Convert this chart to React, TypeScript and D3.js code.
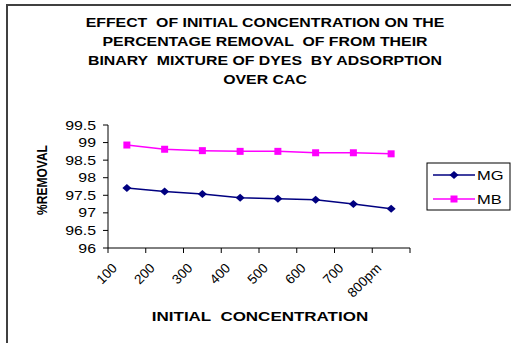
import React from "react";
import * as d3 from "d3";

// Initial concentration categories (x axis)
const categories = ["100", "200", "300", "400", "500", "600", "700", "800pm"];

// % removal for each dye in the binary mixture
const mgValues = [97.71, 97.61, 97.54, 97.43, 97.4, 97.37, 97.25, 97.12];
const mbValues = [98.93, 98.81, 98.77, 98.75, 98.75, 98.71, 98.71, 98.68];

const yTicks = [96, 96.5, 97, 97.5, 98, 98.5, 99, 99.5];

const titleLines = [
  "EFFECT  OF INITIAL CONCENTRATION ON THE",
  "PERCENTAGE REMOVAL  OF FROM THEIR",
  "BINARY  MIXTURE OF DYES  BY ADSORPTION",
  "OVER CAC",
];

const seriesNames = ["MG", "MB"];

const W = 511;
const H = 343;
const FONT = "'Liberation Sans', Arial, sans-serif";
const SX = 1.27; // horizontal stretch of the text

const plot = { left: 108, right: 410, top: 125, bottom: 248 };

export default function App() {
  const x = d3
    .scaleBand<string>()
    .domain(categories)
    .range([plot.left, plot.right]);
  const y = d3.scaleLinear().domain([96, 99.5]).range([plot.bottom, plot.top]);

  const line = d3
    .line<number>()
    .x((_, i) => (x(categories[i]) as number) + x.bandwidth() / 2)
    .y((d) => y(d));

  const boundaries = categories.map((c) => x(c) as number).concat([plot.right]);

  const series = [
    { name: seriesNames[0], values: mgValues, color: "#000080", marker: "diamond" },
    { name: seriesNames[1], values: mbValues, color: "#FF00FF", marker: "square" },
  ];

  const marker = (kind: string, cx: number, cy: number, color: string, key: string) =>
    kind === "diamond" ? (
      <path
        key={key}
        d={`M${cx},${cy - 4}L${cx + 4.5},${cy}L${cx},${cy + 4}L${cx - 4.5},${cy}Z`}
        fill={color}
      />
    ) : (
      <rect key={key} x={cx - 3.5} y={cy - 3.5} width={7} height={7} fill={color} />
    );

  const stretched = (
    tx: number,
    ty: number,
    text: string,
    props: Record<string, any> = {},
    sx: number = SX
  ) => (
    <text
      transform={`translate(${tx},${ty}) scale(${sx},1)`}
      fontFamily={FONT}
      style={{ whiteSpace: "pre" }}
      {...props}
    >
      {text}
    </text>
  );

  return (
    <svg
      width={W}
      height={H}
      style={{ position: "absolute", left: 0, top: 0, background: "#fff" }}
    >
      <rect x={7} y={5} width={520} height={360} fill="#fff" stroke="#404040" strokeWidth={2} />

      {/* title */}
      {titleLines.map((t, i) => (
        <React.Fragment key={t}>
          {stretched(265, 27 + i * 19, t, {
            textAnchor: "middle",
            fontSize: 12.5,
            fontWeight: "bold",
            fill: "#000",
          })}
        </React.Fragment>
      ))}

      {/* y axis */}
      <line x1={plot.left} x2={plot.left} y1={plot.top} y2={plot.bottom} stroke="#000" />
      {yTicks.map((t) => (
        <g key={t}>
          <line x1={plot.left - 5} x2={plot.left} y1={y(t)} y2={y(t)} stroke="#000" />
          {stretched(96, y(t) + 4.5, String(t), {
            textAnchor: "end",
            fontSize: 12.5,
            fill: "#000",
          })}
        </g>
      ))}
      <text
        transform={`translate(47,180) scale(1.25,1) rotate(-90)`}
        textAnchor="middle"
        fontFamily={FONT}
        fontSize={12}
        fontWeight="bold"
      >
        %REMOVAL
      </text>

      {/* x axis */}
      <line x1={plot.left} x2={plot.right} y1={plot.bottom} y2={plot.bottom} stroke="#000" />
      {boundaries.map((b, i) => (
        <line key={i} x1={b} x2={b} y1={plot.bottom} y2={plot.bottom + 5} stroke="#000" />
      ))}
      {categories.map((c) => {
        const cx = (x(c) as number) + x.bandwidth() / 2;
        return (
          <text
            key={c}
            transform={`translate(${cx - 9},${plot.bottom + 21}) rotate(-45)`}
            textAnchor="end"
            fontFamily={FONT}
            fontSize={13.5}
          >
            {c}
          </text>
        );
      })}
      {stretched(
        260,
        321,
        "INITIAL  CONCENTRATION",
        {
          textAnchor: "middle",
          fontSize: 12.5,
          fontWeight: "bold",
          fill: "#000",
        },
        1.36
      )}

      {/* series */}
      {series.map((s) => (
        <g key={s.name}>
          <path d={line(s.values) as string} fill="none" stroke={s.color} strokeWidth={1.5} />
          {s.values.map((v, i) =>
            marker(
              s.marker,
              (x(categories[i]) as number) + x.bandwidth() / 2,
              y(v),
              s.color,
              `${s.name}-${i}`
            )
          )}
        </g>
      ))}

      {/* legend */}
      <rect x={427} y={163} width={83} height={47} fill="#fff" stroke="#000" strokeWidth={1} />
      {series.map((s, i) => {
        const ly = 175 + i * 24;
        return (
          <g key={s.name}>
            <line x1={433} x2={475} y1={ly} y2={ly} stroke={s.color} strokeWidth={1.5} />
            {marker(s.marker, 454, ly, s.color, `leg-${s.name}`)}
            {stretched(477, ly + 4.5, s.name, { fontSize: 13, fill: "#000" })}
          </g>
        );
      })}
    </svg>
  );
}
